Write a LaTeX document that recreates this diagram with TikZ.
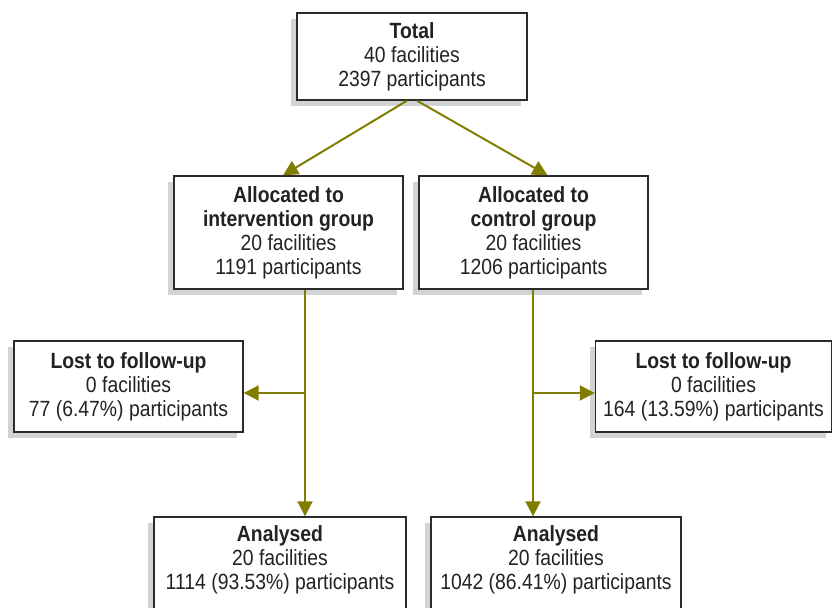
\documentclass[tikz,border=0pt]{standalone}
\usepackage{fontspec}
\setmainfont[FakeStretch=0.88]{Liberation Sans}
\usepackage{tikz}
\usetikzlibrary{arrows.meta,shadows}
\definecolor{olive}{HTML}{807D00}
\definecolor{frame}{HTML}{2B2B2B}
\definecolor{shade}{HTML}{D2D3D5}
\definecolor{ink}{HTML}{222222}

\begin{document}
\begin{tikzpicture}[x=0.5pt, y=-0.5pt, font=\fontsize{11}{12}\selectfont, text=ink,
  main/.style = {draw=frame, line width=0.7pt, fill=white, align=center, inner sep=0pt,
    drop shadow={shadow xshift=-3pt, shadow yshift=-3pt, fill=shade, opacity=1}},
  flow/.style = {draw=olive, line width=1pt, -{Triangle[length=7.5pt,width=7.5pt]}}]
\useasboundingbox (0,0) rectangle (833,608);
\node[main, minimum width=115pt, minimum height=43.5pt] (total) at (412,56.5) {\textbf{Total}\\40 facilities\\2397 participants};
\node[main, minimum width=114.5pt, minimum height=56.5pt] (interv) at (288.5,232.5) {\textbf{Allocated to}\\\textbf{intervention group}\\20 facilities\\1191 participants};
\node[main, minimum width=114.5pt, minimum height=56.5pt] (control) at (533.5,232.5) {\textbf{Allocated to}\\\textbf{control group}\\20 facilities\\1206 participants};
\node[main, minimum width=114.5pt, minimum height=45.5pt] (lostI) at (128.5,386.5) {\textbf{Lost to follow-up}\\0 facilities\\77 (6.47\%) participants};
\node[main, minimum width=118pt, minimum height=45.5pt] (lostC) at (713.5,386.5) {\textbf{Lost to follow-up}\\0 facilities\\164 (13.59\%) participants};
\node[main, minimum width=126pt, minimum height=47pt, text depth=6pt] (anaI) at (280,564) {\textbf{Analysed}\\20 facilities\\1114 (93.53\%) participants};
\node[main, minimum width=125pt, minimum height=47pt, text depth=6pt] (anaC) at (556,564) {\textbf{Analysed}\\20 facilities\\1042 (86.41\%) participants};
% junctions on the vertical lines
\coordinate (stemI) at (305,393);
\coordinate (stemC) at (533,393);
\draw[flow] ([xshift=-2.5pt]total.south) -- ([xshift=-2.75pt]interv.north);
\draw[flow] ([xshift=2.5pt]total.south) -- ([xshift=7pt]control.north);
\draw[flow] (stemI |- interv.south) -- (stemI |- anaI.north);
\draw[flow] (stemC |- control.south) -- (stemC |- anaC.north);
\draw[flow] (stemI) -- (stemI -| lostI.east);
\draw[flow] (stemC) -- (stemC -| lostC.west);
\end{tikzpicture}
\end{document}
